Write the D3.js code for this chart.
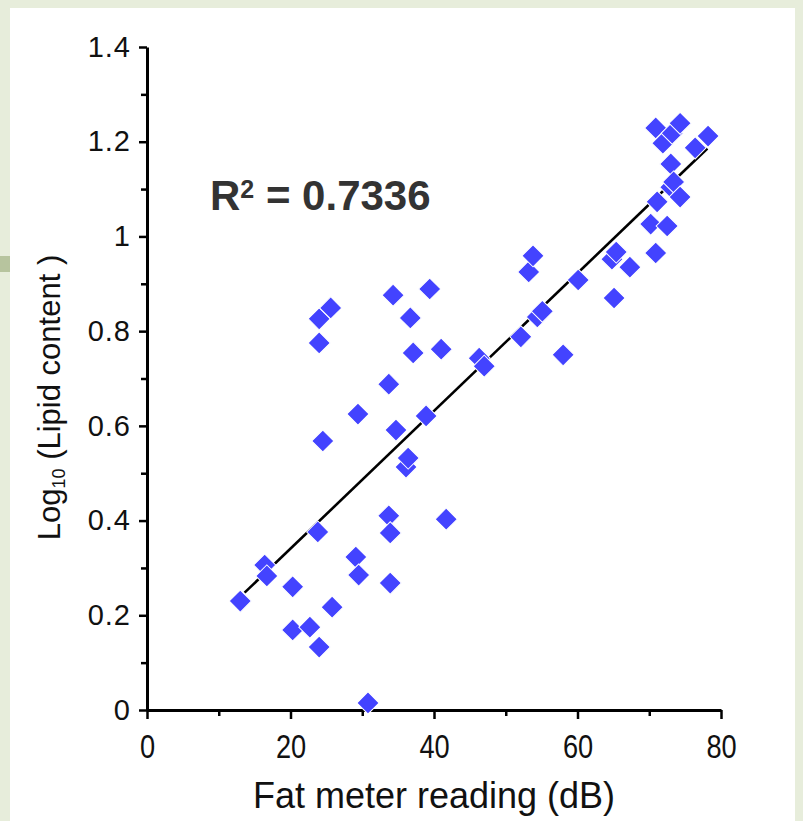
<!DOCTYPE html>
<html>
<head>
<meta charset="utf-8">
<script src="https://cdn.jsdelivr.net/npm/d3@7"></script>
<style>
  body { margin: 0; background: #e7eddb; }
  svg { display: block; font-family: "Liberation Sans", Arial, sans-serif; }
</style>
</head>
<body>
<div id="chart-area"></div>
<script>
// fat meter reading (dB) vs log10 lipid content
var fatReading = [
  13.0, 16.4, 16.7, 20.3, 20.3, 22.7, 24.0, 23.8, 24.0, 24.0,
  25.6, 24.5, 25.8, 29.1, 29.5, 29.4, 30.8, 33.7, 33.7, 33.9,
  33.9, 34.3, 34.7, 36.1, 36.4, 36.7, 37.1, 38.9, 39.4, 41.0,
  41.7, 46.3, 47.0, 52.1, 53.2, 53.8, 54.4, 55.1, 58.0, 60.1,
  64.8, 65.4, 65.1, 67.3, 70.2, 70.9, 70.9, 71.1, 71.9, 72.5,
  73.0, 73.0, 73.4, 73.2, 74.3, 74.3, 76.4, 78.2
];
var lipidLog = [
  0.230, 0.306, 0.283, 0.260, 0.169, 0.175, 0.133, 0.376, 0.775, 0.826,
  0.849, 0.568, 0.217, 0.323, 0.285, 0.625, 0.015, 0.688, 0.410, 0.374,
  0.268, 0.876, 0.591, 0.513, 0.532, 0.828, 0.754, 0.621, 0.889, 0.762,
  0.403, 0.743, 0.726, 0.788, 0.925, 0.959, 0.830, 0.842, 0.750, 0.908,
  0.952, 0.967, 0.870, 0.935, 1.026, 0.965, 1.229, 1.073, 1.197, 1.022,
  1.153, 1.104, 1.115, 1.218, 1.239, 1.083, 1.187, 1.212
];

var xTickValues = [0, 20, 40, 60, 80];
var xMinorTicks = [10, 30, 50, 70];
var yTickValues = [0, 0.2, 0.4, 0.6, 0.8, 1, 1.2, 1.4];
var yTickLabels = ["0", "0.2", "0.4", "0.6", "0.8", "1", "1.2", "1.4"];
var yMinorTicks = [0.1, 0.3, 0.5, 0.7, 0.9, 1.1, 1.3];

// trend line as drawn on the figure
var fitSlope = 0.01454;
var fitIntercept = 0.050;
var fitRange = [13.6, 78.1];
var rSquared = "0.7336";

var points = fatReading.map(function(d, i) {
  return { x: d, y: lipidLog[i] };
});

var fontFamily = "'Liberation Sans', Arial, sans-serif";

var margin = { left: 147, right: 82, top: 47, bottom: 111 };
var width = 803 - margin.left - margin.right;
var height = 821 - margin.top - margin.bottom;

var svg = d3.select("#chart-area")
  .append("svg")
  .attr("width", 803)
  .attr("height", 821);

// slide background + white panel
svg.append("rect")
  .attr("width", 803)
  .attr("height", 821)
  .attr("fill", "#e7eddb");

svg.append("rect")
  .attr("x", 0)
  .attr("y", 256)
  .attr("width", 12)
  .attr("height", 16)
  .attr("fill", "#b7c49e");

svg.append("rect")
  .attr("x", 10)
  .attr("y", 8)
  .attr("width", 785)
  .attr("height", 813)
  .attr("fill", "#ffffff");

var g = svg.append("g")
  .attr("transform", "translate(" + margin.left + "," + margin.top + ")");

var x = d3.scaleLinear()
  .domain([0, 80])
  .range([0, width]);

var y = d3.scaleLinear()
  .domain([0, 1.4])
  .range([height, 0]);

// minor ticks
g.append("g")
  .attr("class", "minor")
  .attr("transform", "translate(0," + height + ")")
  .call(d3.axisBottom(x).tickValues(xMinorTicks).tickSize(6).tickSizeOuter(0).tickFormat(""));

g.append("g")
  .attr("class", "minor")
  .call(d3.axisLeft(y).tickValues(yMinorTicks).tickSize(6).tickSizeOuter(0).tickFormat(""));

// X axis
var xAxisGroup = g.append("g")
  .attr("transform", "translate(0," + height + ")")
  .call(d3.axisBottom(x)
    .tickValues(xTickValues)
    .tickSize(9)
    .tickSizeOuter(0)
    .tickPadding(15));

xAxisGroup.selectAll("text")
  .style("font-family", fontFamily)
  .style("font-size", "34px")
  .attr("fill", "#111")
  .attr("transform", "scale(0.8,1)");

// Y axis
var yAxisGroup = g.append("g")
  .call(d3.axisLeft(y)
    .tickValues(yTickValues)
    .tickSize(8)
    .tickSizeOuter(0)
    .tickPadding(8)
    .tickFormat(function(d, i) { return yTickLabels[i]; }));

yAxisGroup.selectAll("text")
  .style("font-family", fontFamily)
  .style("font-size", "29px")
  .style("letter-spacing", "1px")
  .attr("fill", "#111");

g.selectAll(".domain")
  .attr("stroke", "#000")
  .attr("stroke-width", 3);

g.selectAll(".tick line")
  .attr("stroke", "#000")
  .attr("stroke-width", 2.5);

g.selectAll(".minor .domain").remove();

// X label
g.append("text")
  .attr("x", x(40))
  .attr("y", height + 98)
  .attr("text-anchor", "middle")
  .style("font-size", "36px")
  .attr("fill", "#111")
  .text("Fat meter reading (dB)");

// Y label
var yLabel = g.append("text")
  .attr("transform", "translate(-87," + (y(0.7) + 19) + ") rotate(-90)")
  .attr("text-anchor", "middle")
  .style("font-size", "31px")
  .attr("fill", "#111");

yLabel.append("tspan").text("Log");
yLabel.append("tspan").style("font-size", "18px").attr("dy", 5).text("10");
yLabel.append("tspan").attr("dy", -5).text(" (Lipid content )");

// trend line
g.append("line")
  .attr("x1", x(fitRange[0]))
  .attr("y1", y(fitIntercept + fitSlope * fitRange[0]))
  .attr("x2", x(fitRange[1]))
  .attr("y2", y(fitIntercept + fitSlope * fitRange[1]))
  .attr("stroke", "#000")
  .attr("stroke-width", 2.6);

// points
g.selectAll("path.point")
  .data(points)
  .enter()
  .append("path")
  .attr("class", "point")
  .attr("d", d3.symbol(d3.symbolSquare).size(245))
  .attr("transform", function(d) {
    return "translate(" + x(d.x) + "," + y(d.y) + ") rotate(45)";
  })
  .attr("fill", "#4343ff")
  .attr("stroke", "#ffffff")
  .attr("stroke-width", 1);

// R squared label
var rLabel = svg.append("text")
  .attr("x", 210)
  .attr("y", 210)
  .style("font-size", "42px")
  .attr("font-weight", "bold")
  .attr("fill", "#333");

rLabel.append("tspan").text("R");
rLabel.append("tspan").style("font-size", "25px").attr("dy", -12).text("2");
rLabel.append("tspan").attr("dy", 12).text(" = " + rSquared);
</script>
</body>
</html>
